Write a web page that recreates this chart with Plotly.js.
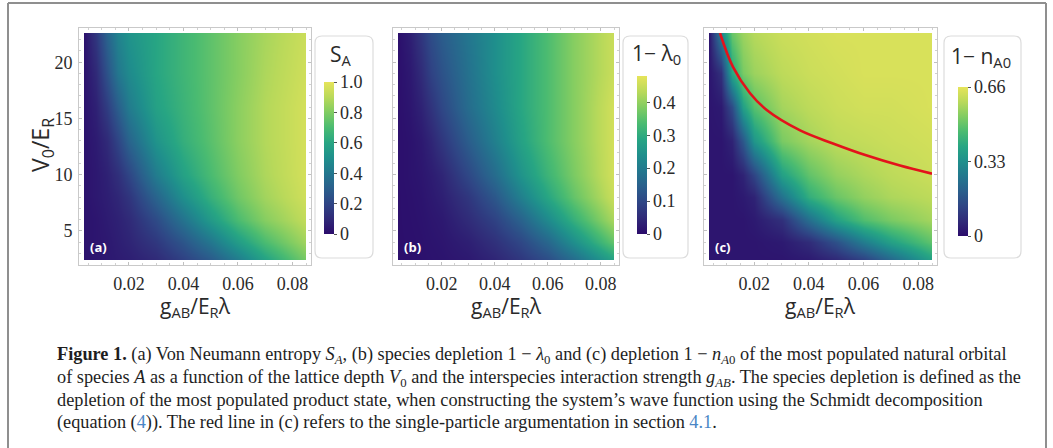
<!DOCTYPE html>
<html>
<head>
<meta charset="utf-8">
<script src="https://cdn.plot.ly/plotly-3.0.1.min.js"></script>
<style>
  html, body { margin: 0; padding: 0; background: #ffffff; }
  #chart { width: 1053px; height: 448px; }
</style>
</head>
<body>
<div id="chart"></div>
<script>
// ---------------- data ----------------
// interspecies interaction strength g_AB / (E_R lambda)  (columns)
const gAB = [0.0035, 0.008, 0.012, 0.016, 0.02, 0.03, 0.04, 0.05, 0.06, 0.07, 0.085];
// lattice depth V0 / E_R  (rows, bottom to top)
const V0 = [2.4, 4, 6, 8, 10, 13, 16, 19, 22.6];

// (a) von Neumann entropy S_A
const entropyA = [
  [0.02, 0.03, 0.04, 0.05, 0.06, 0.10, 0.18, 0.28, 0.42, 0.58, 0.78],
  [0.02, 0.03, 0.04, 0.06, 0.08, 0.15, 0.26, 0.40, 0.56, 0.70, 0.86],
  [0.02, 0.03, 0.05, 0.07, 0.10, 0.22, 0.38, 0.55, 0.70, 0.81, 0.92],
  [0.02, 0.04, 0.06, 0.09, 0.14, 0.32, 0.50, 0.65, 0.77, 0.86, 0.95],
  [0.02, 0.04, 0.07, 0.12, 0.20, 0.42, 0.58, 0.70, 0.80, 0.88, 0.96],
  [0.02, 0.05, 0.10, 0.20, 0.32, 0.52, 0.64, 0.73, 0.82, 0.89, 0.96],
  [0.02, 0.07, 0.17, 0.30, 0.42, 0.58, 0.66, 0.74, 0.82, 0.89, 0.96],
  [0.02, 0.10, 0.25, 0.40, 0.48, 0.60, 0.67, 0.74, 0.81, 0.88, 0.95],
  [0.02, 0.15, 0.32, 0.45, 0.52, 0.60, 0.67, 0.74, 0.81, 0.87, 0.94]
];

// (b) species depletion 1 - lambda_0
const depletionSpecies = [
  [0.005, 0.005, 0.007, 0.010, 0.012, 0.020, 0.040, 0.070, 0.110, 0.170, 0.280],
  [0.005, 0.006, 0.008, 0.012, 0.015, 0.030, 0.060, 0.100, 0.160, 0.240, 0.360],
  [0.005, 0.007, 0.010, 0.015, 0.020, 0.050, 0.090, 0.150, 0.230, 0.310, 0.420],
  [0.005, 0.008, 0.012, 0.020, 0.030, 0.070, 0.130, 0.210, 0.290, 0.360, 0.450],
  [0.005, 0.010, 0.015, 0.025, 0.040, 0.100, 0.170, 0.250, 0.320, 0.380, 0.460],
  [0.005, 0.010, 0.020, 0.040, 0.070, 0.140, 0.210, 0.280, 0.340, 0.390, 0.460],
  [0.005, 0.015, 0.035, 0.065, 0.100, 0.170, 0.230, 0.290, 0.340, 0.390, 0.460],
  [0.005, 0.020, 0.050, 0.090, 0.120, 0.180, 0.240, 0.290, 0.340, 0.390, 0.450],
  [0.005, 0.030, 0.070, 0.110, 0.140, 0.190, 0.240, 0.290, 0.340, 0.390, 0.450]
];

// (c) depletion 1 - n_A0 of the most populated natural orbital
const depletionOrbital = [
  [0.02, 0.02, 0.02, 0.02, 0.02, 0.02, 0.03, 0.06, 0.12, 0.22, 0.38],
  [0.02, 0.02, 0.02, 0.02, 0.02, 0.03, 0.07, 0.16, 0.28, 0.38, 0.49],
  [0.02, 0.02, 0.02, 0.02, 0.03, 0.08, 0.24, 0.38, 0.47, 0.52, 0.57],
  [0.02, 0.02, 0.02, 0.03, 0.05, 0.25, 0.42, 0.50, 0.55, 0.58, 0.60],
  [0.02, 0.02, 0.02, 0.05, 0.13, 0.38, 0.49, 0.55, 0.58, 0.60, 0.62],
  [0.02, 0.02, 0.05, 0.18, 0.35, 0.52, 0.57, 0.60, 0.61, 0.62, 0.63],
  [0.02, 0.03, 0.15, 0.38, 0.48, 0.57, 0.60, 0.62, 0.63, 0.63, 0.64],
  [0.02, 0.08, 0.40, 0.52, 0.56, 0.60, 0.62, 0.63, 0.64, 0.64, 0.64],
  [0.02, 0.30, 0.50, 0.56, 0.59, 0.62, 0.63, 0.64, 0.64, 0.64, 0.64]
];

// red line in (c): single-particle argument
const redLineG = [0.0075, 0.0123, 0.0185, 0.0247, 0.0368, 0.0488, 0.0612, 0.0733, 0.0850];
const redLineV = [22.6, 19.56, 17.24, 15.72, 13.93, 12.77, 11.69, 10.80, 10.08];

// tick labels
const xTickVals = [0.02, 0.04, 0.06, 0.08];
const xTickText = ['0.02', '0.04', '0.06', '0.08'];
const yTickVals = [5, 10, 15, 20];
const yTickText = ['5', '10', '15', '20'];
const cbA = {vals: [0, 0.2, 0.4, 0.6, 0.8, 1.0], text: ['0', '0.2', '0.4', '0.6', '0.8', '1.0'], max: 1.0};
const cbB = {vals: [0, 0.1, 0.2, 0.3, 0.4], text: ['0', '0.1', '0.2', '0.3', '0.4'], max: 0.48};
const cbC = {vals: [0, 0.33, 0.66], text: ['0', '0.33', '0.66'], max: 0.66};

// ---------------- styling / layout ----------------
const W = 1053, H = 448;
const PX = v => v / W;
const PY = v => 1 - v / H;

const colorscale = [
  [0.0, '#2b0c6b'], [0.1, '#302a78'], [0.2, '#2f4585'], [0.3, '#2a5f8c'],
  [0.4, '#23778e'], [0.5, '#1f8f8c'], [0.6, '#27a583'], [0.7, '#4abb71'],
  [0.8, '#80cc62'], [0.9, '#b9d95a'], [1.0, '#e6e45a']
];

const serif = 'Liberation Serif';
const sans = 'Open Sans';
const textCol = '#2a2a2a';

const xRange = [gAB[0], gAB[gAB.length - 1]];
const yRange = [V0[0], V0[V0.length - 1]];
const hmTop = 33, hmBottom = 260, pad = 5;

const panels = [
  {z: entropyA, cb: cbA, hm: [84, 306], cbx: 324, cbTop: 82, cbBot: 234, box: [315, 373],
   label: '(a)', title: 'S<sub>A</sub>', titleX: 341, titleY: 55, showY: true},
  {z: depletionSpecies, cb: cbB, hm: [398, 614], cbx: 637, cbTop: 76, cbBot: 234, box: [623, 688],
   label: '(b)', title: '1\u2212 \u03bb<sub>0</sub>', titleX: 656, titleY: 54, showY: false},
  {z: depletionOrbital, cb: cbC, hm: [709, 932], cbx: 958, cbTop: 87, cbBot: 236, box: [944, 1021],
   label: '(c)', title: '1\u2212 n<sub>A0</sub>', titleX: 981, titleY: 57, showY: false}
];

const data = [];
const layout = {
  width: W, height: H,
  margin: {l: 0, r: 0, t: 0, b: 0},
  paper_bgcolor: '#ffffff',
  plot_bgcolor: 'rgba(0,0,0,0)',
  font: {family: serif, size: 17, color: textCol},
  showlegend: false,
  shapes: [],
  annotations: []
};

function roundRect(x0, y0, x1, y1, r) {
  const a = PX(x0), b = PX(x1), rx = r / W, ry = r / H;
  const t = PY(y0), u = PY(y1);
  return `M ${a + rx},${t} L ${b - rx},${t} Q ${b},${t} ${b},${t - ry} L ${b},${u + ry} Q ${b},${u} ${b - rx},${u} ` +
         `L ${a + rx},${u} Q ${a},${u} ${a},${u + ry} L ${a},${t - ry} Q ${a},${t} ${a + rx},${t} Z`;
}

panels.forEach((p, i) => {
  const hx = i === 0 ? 'x' : 'x' + (i + 1);
  const hy = i === 0 ? 'y' : 'y' + (i + 1);
  const fx = 'x' + (i + 4), fy = 'y' + (i + 4);
  const kx = i === 0 ? 'xaxis' : 'xaxis' + (i + 1);
  const ky = i === 0 ? 'yaxis' : 'yaxis' + (i + 1);
  const wpx = p.hm[1] - p.hm[0], hpx = hmBottom - hmTop;
  const gpp = (xRange[1] - xRange[0]) / wpx;
  const vpp = (yRange[1] - yRange[0]) / hpx;

  data.push({
    type: 'heatmap', x: gAB, y: V0, z: p.z, xaxis: hx, yaxis: hy,
    zmin: 0, zmax: p.cb.max, zsmooth: 'best', colorscale: colorscale,
    hoverinfo: 'skip',
    colorbar: {
      x: PX(p.cbx), xanchor: 'left', xpad: 0, ypad: 0,
      y: PY((p.cbTop + p.cbBot) / 2), yanchor: 'middle',
      len: p.cbBot - p.cbTop, lenmode: 'pixels',
      thickness: 10, thicknessmode: 'pixels',
      outlinewidth: 0,
      tickvals: p.cb.vals, ticktext: p.cb.text,
      ticks: 'outside', ticklen: 3, tickcolor: '#555', tickwidth: 1,
      tickfont: {family: serif, size: 18, color: textCol},
      title: {text: ''}
    }
  });
  if (i === 2) {
    data.push({
      type: 'scatter', mode: 'lines', x: redLineG, y: redLineV, xaxis: hx, yaxis: hy,
      line: {color: '#e3121b', width: 2.6, shape: 'spline', smoothing: 1},
      hoverinfo: 'skip', cliponaxis: true
    });
  }
  // empty trace to create the framing subplot
  data.push({type: 'scatter', x: [], y: [], xaxis: fx, yaxis: fy, hoverinfo: 'skip'});

  layout[kx] = {domain: [PX(p.hm[0]), PX(p.hm[1])], range: xRange.slice(), visible: false,
                fixedrange: true, anchor: hy};
  layout[ky] = {domain: [PY(hmBottom), PY(hmTop)], range: yRange.slice(), visible: false,
                fixedrange: true, anchor: hx};

  layout['xaxis' + (i + 4)] = {
    domain: [PX(p.hm[0] - pad), PX(p.hm[1] + pad)],
    range: [xRange[0] - pad * gpp, xRange[1] + pad * gpp],
    anchor: fy, showgrid: false, zeroline: false,
    showline: true, linecolor: '#c9c9c9', linewidth: 1, mirror: 'ticks',
    ticks: 'inside', ticklen: 3, tickcolor: '#c0c0c0',
    minor: {dtick: 0.005, ticks: 'inside', ticklen: 2, tickcolor: '#d0d0d0'},
    tickvals: xTickVals, ticktext: xTickText,
    tickfont: {family: serif, size: 18, color: textCol},
    ticklabelstandoff: 2, fixedrange: true
  };
  layout['yaxis' + (i + 4)] = {
    domain: [PY(hmBottom + pad), PY(hmTop - pad)],
    range: [yRange[0] - pad * vpp, yRange[1] + pad * vpp],
    anchor: fx, showgrid: false, zeroline: false,
    showline: true, linecolor: '#c9c9c9', linewidth: 1, mirror: 'ticks',
    ticks: 'inside', ticklen: 3, tickcolor: '#c0c0c0',
    minor: {dtick: 1, ticks: 'inside', ticklen: 2, tickcolor: '#d0d0d0'},
    tickvals: yTickVals, ticktext: yTickText, showticklabels: p.showY,
    tickfont: {family: serif, size: 18, color: textCol},
    ticklabelstandoff: 2, fixedrange: true
  };

  // colorbar box
  layout.shapes.push({type: 'path', xref: 'paper', yref: 'paper', layer: 'below',
    path: roundRect(p.box[0], 36, p.box[1], 258, 7),
    line: {color: '#dcdcdc', width: 1.2}, fillcolor: 'rgba(0,0,0,0)'});

  // colorbar title
  layout.annotations.push({xref: 'paper', yref: 'paper', x: PX(p.titleX), y: PY(p.titleY),
    xanchor: 'center', yanchor: 'middle', showarrow: false, text: p.title,
    font: {family: sans, size: 21, color: textCol}});
  // panel label
  layout.annotations.push({xref: 'paper', yref: 'paper', x: PX(p.hm[0] + 4), y: PY(247),
    xanchor: 'left', yanchor: 'middle', showarrow: false, text: '<b>' + p.label + '</b>',
    font: {family: sans, size: 13, color: '#ffffff'}});
  // x-axis title
  layout.annotations.push({xref: 'paper', yref: 'paper', x: PX((p.hm[0] + p.hm[1]) / 2), y: PY(307),
    xanchor: 'center', yanchor: 'middle', showarrow: false,
    text: 'g<sub>AB</sub>/E<sub>R</sub>\u03bb',
    font: {family: sans, size: 21, color: textCol}});
});

// y-axis title
layout.annotations.push({xref: 'paper', yref: 'paper', x: PX(41), y: PY(145),
  xanchor: 'center', yanchor: 'middle', showarrow: false, textangle: -90,
  text: 'V<sub>0</sub>/E<sub>R</sub>', font: {family: sans, size: 23, color: textCol}});

// outer figure frame
const frameCol = '#8f8f8f';
layout.shapes.push(
  {type: 'line', xref: 'paper', yref: 'paper', x0: PX(8), x1: PX(1046), y0: PY(3), y1: PY(3), line: {color: frameCol, width: 2}},
  {type: 'line', xref: 'paper', yref: 'paper', x0: PX(8), x1: PX(8), y0: PY(3), y1: 0, line: {color: frameCol, width: 2}},
  {type: 'line', xref: 'paper', yref: 'paper', x0: PX(1046), x1: PX(1046), y0: PY(3), y1: 0, line: {color: frameCol, width: 2}}
);

// caption
const link = '#4a86c5';
const captionLines = [
  '<b>Figure 1.</b> (a) Von Neumann entropy <i>S<sub>A</sub></i>, (b) species depletion 1 \u2212 <i>\u03bb</i><sub>0</sub> and (c) depletion 1 \u2212 <i>n<sub>A</sub></i><sub>0</sub> of the most populated natural orbital',
  'of species <i>A</i> as a function of the lattice depth <i>V</i><sub>0</sub> and the interspecies interaction strength <i>g<sub>AB</sub></i>. The species depletion is defined as the',
  'depletion of the most populated product state, when constructing the system\u2019s wave function using the Schmidt decomposition',
  '(equation (<span style="color:' + link + '">4</span>)). The red line in (c) refers to the single-particle argumentation in section <span style="color:' + link + '">4.1</span>.'
];
const captionY = [355, 378, 400, 422];
captionLines.forEach((t, k) => {
  layout.annotations.push({xref: 'paper', yref: 'paper', x: PX(55), y: PY(captionY[k]),
    xanchor: 'left', yanchor: 'middle', align: 'left', showarrow: false, text: t,
    font: {family: serif, size: 18.3, color: '#1e1e1e'}});
});

Plotly.newPlot('chart', data, layout, {staticPlot: true, displayModeBar: false});
</script>
</body>
</html>
